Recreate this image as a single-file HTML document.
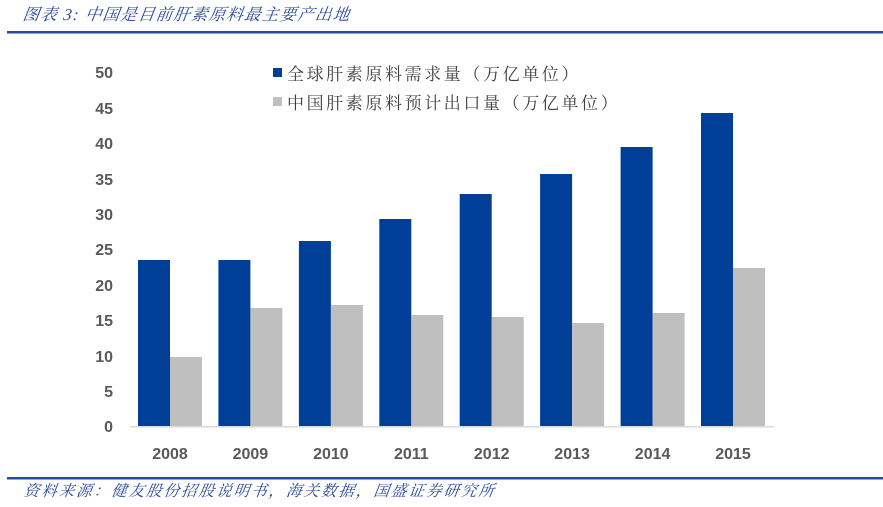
<!DOCTYPE html>
<html><head><meta charset="utf-8"><style>
body{margin:0;background:#fff;width:883px;height:507px;overflow:hidden}
svg{display:block}
</style></head><body>
<svg width="883" height="507" xmlns="http://www.w3.org/2000/svg">
<text x="22" y="20" font-family="'Liberation Serif','Noto Serif CJK SC',serif" font-style="italic" font-size="16.5" fill="#2a4a9a" letter-spacing="1.2" transform="skewX(-8) translate(3,0)">图表 3:  中国是目前肝素原料最主要产出地</text>
<rect x="7" y="31" width="876" height="2.5" fill="#1f4e9c"/>
<g font-family="'Liberation Sans',sans-serif" font-weight="bold" font-size="16" fill="#595959" text-anchor="end">
<text x="113" y="78">50</text><text x="113" y="114">45</text><text x="113" y="149">40</text><text x="113" y="185">35</text><text x="113" y="220">30</text><text x="113" y="255">25</text><text x="113" y="291">20</text><text x="113" y="326">15</text><text x="113" y="362">10</text><text x="113" y="397">5</text><text x="113" y="432">0</text>
</g>
<g fill="#003f98">
<rect x="138" y="260" width="32" height="166"/>
<rect x="218.4" y="260" width="32" height="166"/>
<rect x="298.9" y="241" width="32" height="185"/>
<rect x="379.3" y="219" width="32" height="207"/>
<rect x="459.7" y="194" width="32" height="232"/>
<rect x="540.1" y="174" width="32" height="252"/>
<rect x="620.6" y="147" width="32" height="279"/>
<rect x="701" y="113" width="32" height="313"/>
</g>
<g fill="#bfbfbf">
<rect x="170" y="357" width="32" height="69"/>
<rect x="250.4" y="308" width="32" height="118"/>
<rect x="330.9" y="305" width="32" height="121"/>
<rect x="411.3" y="315" width="32" height="111"/>
<rect x="491.7" y="317" width="32" height="109"/>
<rect x="572.1" y="323" width="32" height="103"/>
<rect x="652.6" y="313" width="32" height="113"/>
<rect x="733" y="268" width="32" height="158"/>
</g>
<rect x="130" y="426" width="644" height="1.5" fill="#d9d9d9"/>
<g font-family="'Liberation Sans',sans-serif" font-weight="bold" font-size="16" fill="#595959" text-anchor="middle">
<text x="170" y="459">2008</text><text x="250.4" y="459">2009</text><text x="330.9" y="459">2010</text><text x="411.3" y="459">2011</text><text x="491.7" y="459">2012</text><text x="572.1" y="459">2013</text><text x="652.6" y="459">2014</text><text x="733" y="459">2015</text>
</g>
<rect x="273" y="68" width="9" height="9" fill="#003f98"/>
<rect x="273" y="97" width="9" height="9" fill="#bfbfbf"/>
<g font-family="'Liberation Serif','Noto Serif CJK SC',serif" font-size="17" fill="#404040" letter-spacing="2.6">
<text x="287" y="80">全球肝素原料需求量（万亿单位）</text>
<text x="287" y="109">中国肝素原料预计出口量（万亿单位）</text>
</g>
<rect x="7" y="477" width="876" height="2.5" fill="#1f4e9c"/>
<text x="24" y="496" font-family="'Liberation Serif','Noto Serif CJK SC',serif" font-style="italic" font-size="15.5" fill="#2a4a9a" letter-spacing="2" transform="skewX(-8) translate(69,0)">资料来源：健友股份招股说明书，海关数据，国盛证券研究所</text>
</svg>
</body></html>
